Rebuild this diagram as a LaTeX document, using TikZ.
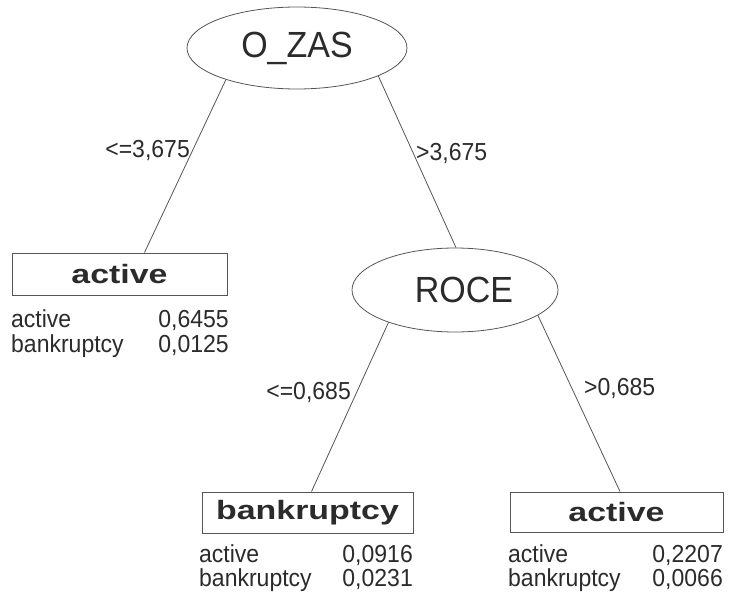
\documentclass[tikz,border=0pt]{standalone}
\usepackage{fontspec}
\usepackage{graphicx}
\setmainfont{Liberation Sans}
\usetikzlibrary{shapes.geometric}
\definecolor{ink}{HTML}{2B2B2B}
\definecolor{edgecol}{HTML}{555555}
\newcommand\boxlab[1]{\scalebox{1.33}[1.04]{\bfseries #1}}
\newcommand\tallt[1]{\scalebox{1}[1.07]{#1}}
\begin{document}
\begin{tikzpicture}[x=1pt,y=-1pt,
  split/.style={ellipse,draw=edgecol,line width=0.8pt,inner sep=0pt,text=ink,font=\fontsize{34}{40}\selectfont},
  leaf/.style={rectangle,draw=edgecol,line width=0.9pt,inner sep=0pt,text=ink,font=\fontsize{25.5}{30}\selectfont},
  conn/.style={draw=edgecol,line width=0.8pt},
  lbl/.style={text=ink,font=\fontsize{23}{26}\selectfont,inner sep=0pt},
]
\useasboundingbox[fill=white] (0,0) rectangle (729,594);

% split nodes
\node[split, minimum width=220pt, minimum height=82pt] (ozas) at (297,48) {\tallt{O\_ZAS}};
\node[split, minimum width=206pt, minimum height=84pt] (roce) at (455,290) {\hspace*{18pt}\tallt{ROCE}};

% leaves
\node[leaf, minimum width=215pt, minimum height=42pt] (a1) at (119.5,274) {\boxlab{active}};
\node[leaf, minimum width=211pt, minimum height=41pt] (bk) at (307.5,512.5) {\boxlab{bankruptcy}};
\node[leaf, minimum width=213pt, minimum height=40pt] (a2) at (616.5,512) {\boxlab{active}};

% connectors
\draw[conn] (ozas.-156) -- ([xshift=25pt]a1.north);
\draw[conn] (ozas.-19.5) -- ([xshift=1pt]roce.north);
\draw[conn] (roce.-154) -- ([xshift=4pt]bk.north);
\draw[conn] (roce.-17) -- ([xshift=3.5pt]a2.north);

% edge labels
\node[lbl, anchor=east] (l1) at (190,150) {\tallt{<=3,675}};
\node[lbl, anchor=west] (l2) at (416,153) {\tallt{>3,675}};
\node[lbl, anchor=east] (l3) at (351,392) {\tallt{<=0,685}};
\node[lbl, anchor=west] (l4) at (584,388) {\tallt{>0,685}};

% leaf distributions
\node[lbl, anchor=base west] (a1n1) at (11,327) {\tallt{active}};
\node[lbl, anchor=base east] (a1v1) at (229,327) {\tallt{0,6455}};
\node[lbl, anchor=base west] (a1n2) at (11,352) {\tallt{bankruptcy}};
\node[lbl, anchor=base east] (a1v2) at (229,352) {\tallt{0,0125}};

\node[lbl, anchor=base west] (bkn1) at (199,562) {\tallt{active}};
\node[lbl, anchor=base east] (bkv1) at (413,562) {\tallt{0,0916}};
\node[lbl, anchor=base west] (bkn2) at (199,586) {\tallt{bankruptcy}};
\node[lbl, anchor=base east] (bkv2) at (413,586) {\tallt{0,0231}};

\node[lbl, anchor=base west] (a2n1) at (508,562) {\tallt{active}};
\node[lbl, anchor=base east] (a2v1) at (723,562) {\tallt{0,2207}};
\node[lbl, anchor=base west] (a2n2) at (508,586) {\tallt{bankruptcy}};
\node[lbl, anchor=base east] (a2v2) at (723,586) {\tallt{0,0066}};
\end{tikzpicture}
\end{document}
